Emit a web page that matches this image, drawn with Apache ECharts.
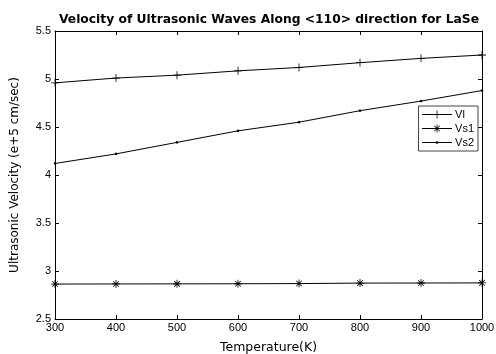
<!DOCTYPE html>
<html>
<head>
<meta charset="utf-8">
<script src="https://cdn.jsdelivr.net/npm/echarts@6/dist/echarts.min.js"></script>
<style>
  html, body { margin: 0; padding: 0; background: #fff; }
  #chart { width: 496px; height: 354px; }
</style>
</head>
<body>
<div id="chart"></div>
<script>
const temperatures = [300, 400, 500, 600, 700, 800, 900, 1000];
const vl = [4.96, 5.01, 5.04, 5.085, 5.12, 5.17, 5.215, 5.25];
const vs1 = [2.864, 2.865, 2.866, 2.867, 2.869, 2.874, 2.875, 2.876];
const vs2 = [4.12, 4.22, 4.34, 4.46, 4.55, 4.67, 4.77, 4.88];

// 10x10 symbol boxes (M0,0 M10,10 keep the box size for tiny marks)
const plusPath = "path://M0,0M10,10M4.5,0h1v10h-1zM0,4.5h10v1h-10z";
const starPath =
  "path://M0,0M10,10M4.5,0h1v10h-1zM0,4.5h10v1h-10z" +
  "M1.2,1.9L1.9,1.2L8.8,8.1L8.1,8.8zM8.1,1.2L8.8,1.9L1.9,8.8L1.2,8.1z";
const dotPath = "path://M0,0M10,10M3.6,3.6h2.8v2.8h-2.8z";

const font = "Liberation Sans, Arial, sans-serif";
const wideFont = "DejaVu Sans, Verdana, sans-serif";

const toPairs = (ys) => temperatures.map((t, i) => [t, ys[i]]);

const myChart = echarts.init(document.getElementById("chart"));

const axisCommon = {
  axisLine: { show: true, lineStyle: { color: "#000", width: 1 } },
  axisTick: { inside: true, length: 4, lineStyle: { color: "#000" } },
  splitLine: { show: false },
};

myChart.setOption({
  animation: false,
  backgroundColor: "#fff",
  title: {
    text: "Velocity of Ultrasonic Waves Along <110> direction for LaSe",
    left: 264,
    top: 9,
    textAlign: "center",
    textStyle: {
      fontFamily: wideFont,
      fontSize: 12.3,
      fontWeight: "bold",
      color: "#000",
    },
  },
  grid: {
    left: 55,
    right: 14,
    top: 31,
    bottom: 35,
    outerBoundsMode: "none",
  },
  legend: {
    orient: "vertical",
    right: 18,
    top: 106,
    backgroundColor: "#fff",
    borderColor: "#444",
    borderWidth: 1,
    padding: [3, 4, 3, 3],
    itemGap: 3,
    itemWidth: 30,
    itemHeight: 10,
    lineStyle: { width: 1 },
    itemStyle: { borderWidth: 0 },
    textStyle: {
      fontFamily: font,
      fontSize: 11,
      color: "#000",
      padding: [0, 0, 0, -2],
    },
    data: ["Vl", "Vs1", "Vs2"],
  },
  xAxis: [
    {
      type: "value",
      min: 300,
      max: 1000,
      interval: 100,
      name: "Temperature(K)",
      nameLocation: "middle",
      nameGap: 22,
      nameTextStyle: { fontFamily: wideFont, fontSize: 12.5, color: "#000" },
      axisLabel: {
        fontFamily: font,
        fontSize: 11,
        color: "#000",
        margin: 3,
        formatter: (v) => String(v),
      },
      ...axisCommon,
    },
    {
      type: "value",
      position: "top",
      min: 300,
      max: 1000,
      interval: 100,
      axisLabel: { show: false },
      ...axisCommon,
    },
  ],
  yAxis: [
    {
      type: "value",
      min: 2.5,
      max: 5.5,
      interval: 0.5,
      name: "Ultrasonic Velocity (e+5 cm/sec)",
      nameLocation: "middle",
      nameGap: 34,
      nameTextStyle: { fontFamily: wideFont, fontSize: 12, color: "#000" },
      axisLabel: { fontFamily: font, fontSize: 11, color: "#000", margin: 4 },
      ...axisCommon,
    },
    {
      type: "value",
      position: "right",
      min: 2.5,
      max: 5.5,
      interval: 0.5,
      axisLabel: { show: false },
      ...axisCommon,
    },
  ],
  series: [
    {
      name: "Vl",
      type: "line",
      data: toPairs(vl),
      symbol: plusPath,
      symbolSize: 8,
      lineStyle: { color: "#000", width: 1 },
      itemStyle: { color: "#000", borderWidth: 0 },
    },
    {
      name: "Vs1",
      type: "line",
      data: toPairs(vs1),
      symbol: starPath,
      symbolSize: 8,
      lineStyle: { color: "#000", width: 1 },
      itemStyle: { color: "#000", borderWidth: 0 },
    },
    {
      name: "Vs2",
      type: "line",
      data: toPairs(vs2),
      symbol: dotPath,
      symbolSize: 8,
      lineStyle: { color: "#000", width: 1 },
      itemStyle: { color: "#000", borderWidth: 0 },
    },
  ],
});
</script>
</body>
</html>
